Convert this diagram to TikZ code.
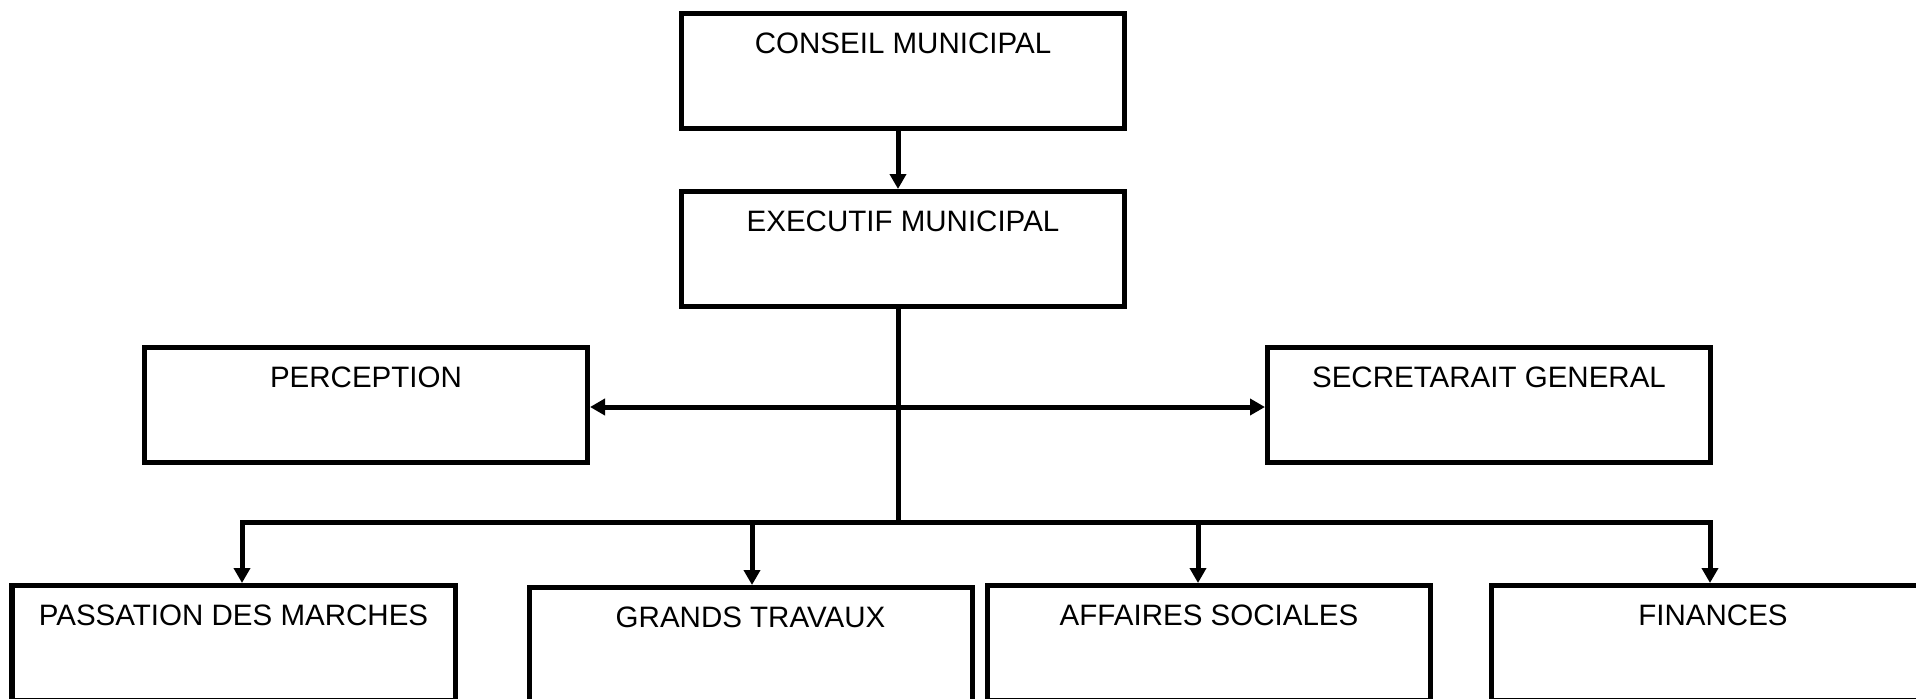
\documentclass[tikz,border=0pt]{standalone}
\usepackage{fontspec}
\setmainfont{Liberation Sans}
\usetikzlibrary{arrows.meta,calc}

\begin{document}
\begin{tikzpicture}[
      service/.style={draw, line width=0.1cm, minimum width=8.86cm, inner xsep=0pt, inner ysep=0pt,
                      text height=0.79cm, text depth=1.51cm, font=\fontsize{16.8}{19}\selectfont},
      lien/.style={line width=0.1cm},
      fleche/.style={lien, -{Triangle[length=0.3cm, width=0.32cm]}},
      fleches/.style={lien, {Triangle[length=0.3cm, width=0.32cm]}-{Triangle[length=0.3cm, width=0.32cm]}}]
               \clip (0,0) rectangle (38.32,-13.96);
               % les services
               \node[service] (conseil) at (18.06,-1.42) {CONSEIL MUNICIPAL};
               \node[service] (executif) at (18.06,-4.98) {EXECUTIF MUNICIPAL};
               \node[service] (perception) at (7.32,-8.10) {PERCEPTION};
               \node[service] (secretariat) at (29.78,-8.10) {SECRETARAIT GENERAL};
               \node[service] (passation) at (4.67,-12.86) {PASSATION DES MARCHES};
               \node[service] (grands) at (15.01,-12.90) {GRANDS TRAVAUX};
               \node[service] (affaires) at (24.18,-12.86) {AFFAIRES SOCIALES};
               \node[service] (finances) at (34.26,-12.86) {FINANCES};
               \coordinate (bus) at (17.96,-10.44);
               % les liens
               \draw[fleche] (conseil.south -| bus) -- (executif.north -| bus);
               \draw[lien] (executif.south -| bus) -- (bus);
               \draw[fleches] ([yshift=-0.04cm]perception.east) -- ([yshift=-0.04cm]secretariat.west);
               \draw[fleches] ([xshift=0.17cm]passation.north) |- (bus) -| ([xshift=-0.06cm]finances.north);
               \draw[fleche] ([xshift=0.03cm]grands.north |- bus) -- ([xshift=0.03cm]grands.north);
               \draw[fleche] ([xshift=-0.22cm]affaires.north |- bus) -- ([xshift=-0.22cm]affaires.north);
\end{tikzpicture}
\end{document}
